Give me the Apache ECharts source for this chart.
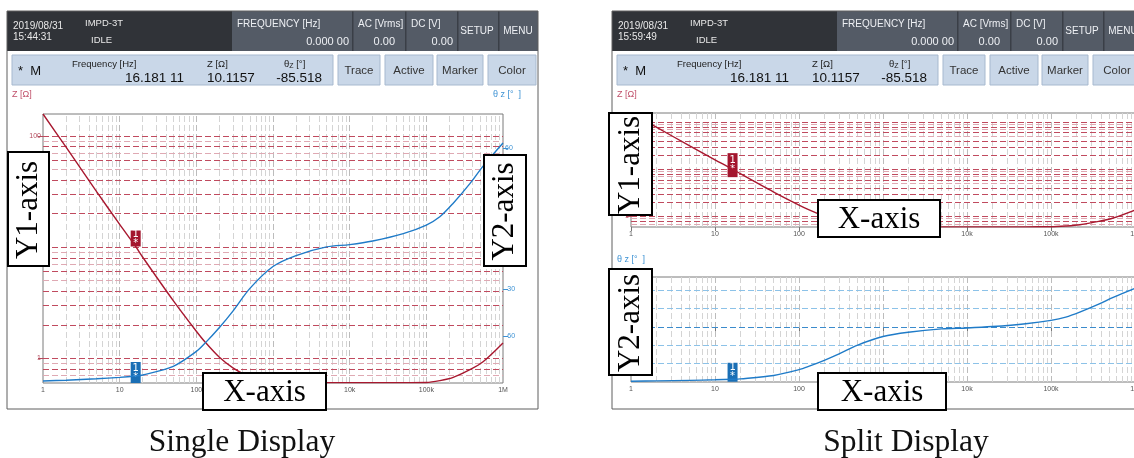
<!DOCTYPE html>
<html>
<head>
<meta charset="utf-8">
<script src="https://cdn.jsdelivr.net/npm/echarts@6/dist/echarts.min.js"></script>
<style>
  html, body { margin: 0; padding: 0; background: #fff; }
  #main { width: 1134px; height: 458px; }
</style>
</head>
<body>
<div id="main"></div>
<script>
// sweep frequencies [Hz]
var freq = [1, 2, 5, 10, 16.18111, 20, 50, 100, 130, 200, 300, 500, 1000, 2000, 5000,
  10000, 20000, 50000, 100000, 150000, 220000, 370000, 550000, 1000000];
// |Z| [ohm]
var impedance = [157, 79, 31.5, 16, 10.1157, 8.1, 3.3, 1.75, 1.4, 1.02, 0.82, 0.68, 0.62, 0.607, 0.605,
  0.605, 0.605, 0.605, 0.607, 0.63, 0.67, 0.79, 0.93, 1.37];
// theta z [deg]
var phase = [-88.7, -88.2, -87.3, -86.4, -85.518, -84.9, -79.3, -69.8, -64.5, -54.5, -44, -29.5, -15.5, -8.5, -3,
  -1.5, 0.8, 5.5, 11, 16.3, 24.5, 37.5, 48.7, 63.5];

var markerFreq = 16.18111;
var markerZ = 10.1157;
var markerPhase = -85.518;

var freqLabels = { 1: '1', 10: '10', 100: '100', 1000: '1k', 10000: '10k', 100000: '100k', 1000000: '1M' };
var zLabelValues = [1, 10, 100];
var phaseLabelValues = [-60, -30, 0, 30, 60];
var phaseGridValues = [-60, -30, 0, 30, 60];
var zGridValues = [0.7, 0.8, 0.9, 1, 2, 3, 4, 5, 6, 7, 8, 9, 10, 20, 30, 40, 50, 60, 70, 80, 90, 100];
var freqGridValues = [];
[1, 10, 100, 1000, 10000, 100000].forEach(function (d) {
  [1, 2, 3, 4, 5, 6, 7, 8, 9].forEach(function (m) { if (d * m > 1) freqGridValues.push(d * m); });
});

var panels = [
  { ox: 0, date: '2019/08/31', time: '15:44:31' },
  { ox: 605, date: '2019/08/31', time: '15:59:49' }
];

var RED = '#a8182f', BLUE = '#1f7bc8';
var UI_FONT = '"Liberation Sans", Arial, sans-serif';
var SERIF = '"Liberation Serif", "DejaVu Serif", serif';

function rect(x, y, w, h, fill, stroke, lw, z) {
  return { type: 'rect', z: z || 1, shape: { x: x, y: y, width: w, height: h },
    style: { fill: fill || 'none', stroke: stroke || null, lineWidth: lw || 1 } };
}
function txt(x, y, s, size, color, align, family, z) {
  return { type: 'text', z: z || 2, x: x, y: y,
    style: { text: s, font: size + 'px ' + (family || UI_FONT), fill: color,
      textAlign: align || 'left', textVerticalAlign: 'middle', align: align || 'left', verticalAlign: 'middle' } };
}

function panelUi(p) {
  var o = p.ox, els = [];
  // header bar
  els.push(rect(o + 7, 11, 225, 40, '#303338'));
  els.push(rect(o + 232, 11, 306, 40, '#545b66'));
  [352, 405, 457, 498].forEach(function (x) { els.push(rect(o + x, 11, 1.5, 40, '#3a3f47')); });
  els.push(txt(o + 13, 26, p.date, 10, '#e8e8e8'));
  els.push(txt(o + 13, 37, p.time, 10, '#e8e8e8'));
  els.push(txt(o + 85, 23, 'IMPD-3T', 9.5, '#e8e8e8'));
  els.push(txt(o + 91, 40, 'IDLE', 9.5, '#e8e8e8'));
  els.push(txt(o + 237, 24, 'FREQUENCY [Hz]', 10, '#eef0f4'));
  els.push(txt(o + 349, 42, '0.000 00', 11, '#eef0f4', 'right'));
  els.push(txt(o + 358, 24, 'AC [Vrms]', 10, '#eef0f4'));
  els.push(txt(o + 395, 42, '0.00', 11, '#eef0f4', 'right'));
  els.push(txt(o + 411, 24, 'DC [V]', 10, '#eef0f4'));
  els.push(txt(o + 453, 42, '0.00', 11, '#eef0f4', 'right'));
  els.push(txt(o + 477, 31, 'SETUP', 10, '#eef0f4', 'center'));
  els.push(txt(o + 518, 31, 'MENU', 10, '#eef0f4', 'center'));
  // marker info bar
  els.push(rect(o + 12, 55, 321, 30, '#c9d7e8', '#a7b9cf'));
  els.push(txt(o + 18, 71, '*  M', 13, '#111'));
  els.push(txt(o + 72, 64, 'Frequency [Hz]', 9.5, '#222'));
  els.push(txt(o + 184, 78, '16.181 11', 13.5, '#111', 'right'));
  els.push(txt(o + 207, 64, 'Z [Ω]', 9.5, '#222'));
  els.push(txt(o + 207, 78, '10.1157', 13.5, '#111'));
  els.push({ type: 'text', z: 2, x: o + 284, y: 64,
    style: { text: '{a|θ}{b|Z} {a|[°]}', font: '9.5px ' + UI_FONT, fill: '#222', verticalAlign: 'middle', textVerticalAlign: 'middle',
      rich: { a: { fontSize: 9.5, fontFamily: 'Liberation Sans', color: '#222' },
              b: { fontSize: 7, fontFamily: 'Liberation Sans', color: '#222', padding: [4, 0, 0, 0] } } } });
  els.push(txt(o + 322, 78, '-85.518', 13.5, '#111', 'right'));
  [[338, 42, 'Trace'], [385, 48, 'Active'], [437, 46, 'Marker'], [488, 48, 'Color']].forEach(function (b) {
    els.push(rect(o + b[0], 55, b[1], 30, '#c9d7e8', '#a7b9cf'));
    els.push(txt(o + b[0] + b[1] / 2, 71, b[2], 11.5, '#333', 'center'));
  });
  // outer frame
  els.push(rect(o + 7, 11, 531, 398, 'none', '#5e5e5e', 1, 3));
  return els;
}

function annot(x, y, w, h, s, vertical) {
  var els = [rect(x, y, w, h, '#fff', '#000', 2, 100)];
  var t = txt(x + w / 2, y + h / 2 + 1, s, 31, '#000', 'center', SERIF, 101);
  if (vertical) t.rotation = Math.PI / 2;
  els.push(t);
  return els;
}

var graphics = [];
panels.forEach(function (p) { graphics = graphics.concat(panelUi(p)); });
graphics.push(txt(12, 95, 'Z [Ω]', 9, '#c0506a'));
graphics.push(txt(617, 95, 'Z [Ω]', 9, '#c0506a'));
graphics.push(txt(493, 95, 'θ z [°  ]', 9, '#3d92d4'));
graphics.push(txt(617, 260, 'θ z [°  ]', 9, '#3d92d4'));
graphics = graphics
  .concat(annot(8, 152, 41, 114, 'Y1-axis', true))
  .concat(annot(484, 155, 42, 111, 'Y2-axis', true))
  .concat(annot(203, 373, 123, 37, 'X-axis'))
  .concat(annot(609, 113, 43, 102, 'Y1-axis', true))
  .concat(annot(609, 269, 43, 106, 'Y2-axis', true))
  .concat(annot(818, 200, 122, 37, 'X-axis'))
  .concat(annot(818, 373, 128, 37, 'X-axis'));
graphics.push(txt(242, 443, 'Single Display', 31.5, '#111', 'center', SERIF));
graphics.push(txt(906, 443, 'Split Display', 31.5, '#111', 'center', SERIF));

function zLineColor(v) {
  var m = Math.round(v / Math.pow(10, Math.floor(Math.log10(v) + 1e-9)));
  return (m === 9 || m === 7 || m === 5) ? '#dfa9b3' : '#c04a5e';
}
function phaseLineColor(v) { return v === 0 ? '#3b8bcc' : '#8cc2e8'; }

function gridSeries(xi, yi, hValues, colorFn) {
  var data = [];
  freqGridValues.forEach(function (v) {
    var decade = v === 10 || v === 100 || v === 1000 || v === 10000 || v === 100000;
    data.push({ xAxis: v, lineStyle: { color: decade ? '#bcbcbc' : '#d4d4d4' } });
  });
  hValues.forEach(function (v) { data.push({ yAxis: v, lineStyle: { color: colorFn(v) } }); });
  return {
    type: 'line', xAxisIndex: xi, yAxisIndex: yi, data: [], z: 1, silent: true,
    markLine: { silent: true, symbol: ['none', 'none'], label: { show: false }, animation: false,
      lineStyle: { type: [6, 3], width: 1 }, data: data }
  };
}

function pairs(ys) { return freq.map(function (f, i) { return [f, ys[i]]; }); }

function marker(coord, color, h, off) {
  return { silent: true, animation: false, data: [{
    coord: coord, symbol: 'rect', symbolSize: [10, h], symbolOffset: [0, off],
    itemStyle: { color: color },
    label: { show: true, position: 'inside', formatter: '1\n*', color: '#fff', fontSize: 10, lineHeight: 9, fontFamily: 'DejaVu Sans' }
  }] };
}

function xAxisDef(gi) {
  return {
    type: 'log', gridIndex: gi, min: 1, max: 1000000, logBase: 10,
    axisLine: { show: false },
    axisTick: { show: true, length: 4, lineStyle: { color: '#777' } },
    axisLabel: { fontSize: 7, color: '#555', margin: 4, fontFamily: 'Liberation Sans',
      formatter: function (v) { return freqLabels[Math.round(v)] || ''; } },
    splitLine: { show: false }
  };
}
function zAxisDef(gi) {
  return {
    type: 'log', gridIndex: gi, min: 0.6, max: 157, position: 'left',
    axisLine: { show: false },
    axisTick: { show: true, length: 5, customValues: zLabelValues, lineStyle: { color: '#b34a5c' } },
    axisLabel: { fontSize: 7, color: '#b34a5c', margin: 2, fontFamily: 'Liberation Sans', customValues: zLabelValues,
      formatter: function (v) { return String(Math.round(v)); } },
    splitLine: { show: false }
  };
}
function phaseAxisDef(gi) {
  return {
    type: 'value', gridIndex: gi, min: -90, max: 82, interval: 30, position: 'right',
    axisLine: { show: false },
    axisTick: { show: true, length: 5, customValues: phaseLabelValues, lineStyle: { color: '#3d92d4' } },
    axisLabel: { fontSize: 7, color: '#3d92d4', margin: 2, fontFamily: 'Liberation Sans', customValues: phaseLabelValues },
    splitLine: { show: false }
  };
}

var chart = echarts.init(document.getElementById('main'), null, { renderer: 'canvas' });
var gridBase = { show: true, backgroundColor: '#fff', borderColor: '#7a7a7a', borderWidth: 1, containLabel: false, outerBoundsMode: 'none' };

chart.setOption({
  animation: false,
  backgroundColor: '#fff',
  grid: [
    Object.assign({ left: 43, top: 114, width: 460, height: 269 }, gridBase),
    Object.assign({ left: 631, top: 113, width: 504, height: 114 }, gridBase),
    Object.assign({ left: 631, top: 277, width: 504, height: 105 }, gridBase)
  ],
  xAxis: [xAxisDef(0), xAxisDef(1), xAxisDef(2)],
  yAxis: [zAxisDef(0), phaseAxisDef(0), zAxisDef(1), phaseAxisDef(2)],
  series: [
    gridSeries(0, 0, zGridValues, zLineColor),
    gridSeries(1, 2, zGridValues, zLineColor),
    gridSeries(2, 3, phaseGridValues, phaseLineColor),
    { name: 'Z', type: 'line', xAxisIndex: 0, yAxisIndex: 0, data: pairs(impedance), symbol: 'none', smooth: 0.3, z: 5,
      lineStyle: { color: RED, width: 1.4 }, markPoint: marker([markerFreq, markerZ], '#a3162e', 16, -8) },
    { name: 'θz', type: 'line', xAxisIndex: 0, yAxisIndex: 1, data: pairs(phase), symbol: 'none', smooth: 0.3, z: 5,
      lineStyle: { color: BLUE, width: 1.4 }, markPoint: marker([markerFreq, markerPhase], '#1a6fb5', 21, -3.5) },
    { name: 'Z split', type: 'line', xAxisIndex: 1, yAxisIndex: 2, data: pairs(impedance), symbol: 'none', smooth: 0.3, z: 5,
      lineStyle: { color: RED, width: 1.4 }, markPoint: marker([markerFreq, markerZ], '#a3162e', 24, -4) },
    { name: 'θz split', type: 'line', xAxisIndex: 2, yAxisIndex: 3, data: pairs(phase), symbol: 'none', smooth: 0.3, z: 5,
      lineStyle: { color: BLUE, width: 1.4 }, markPoint: marker([markerFreq, markerPhase], '#1a6fb5', 19, -7) }
  ],
  graphic: { elements: graphics }
});
</script>
</body>
</html>
